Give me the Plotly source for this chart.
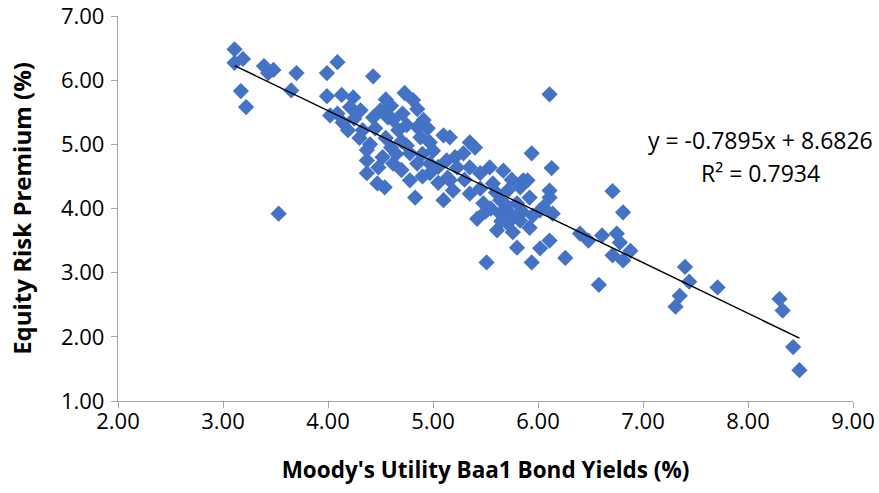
import plotly.graph_objects as go
import numpy as np

bond_yield = [
    3.11, 3.19, 3.11, 3.39, 3.43, 3.48, 3.70, 3.65, 3.17, 3.22, 3.53, 3.99, 4.09, 3.99, 4.02,
    4.43, 4.13, 4.24, 4.21, 4.09, 4.14, 4.19, 4.33, 4.50, 4.57, 4.73, 4.81, 4.71, 4.91, 4.85,
    4.67, 5.10, 4.97, 4.75, 4.37, 4.52, 4.48, 4.37, 4.54, 4.78, 4.85, 4.97, 4.78, 4.97, 5.13,
    5.14, 5.19, 4.83, 5.10, 5.21, 4.88, 4.62, 4.31, 4.43, 4.37, 4.47, 5.35, 5.40, 5.29, 5.94,
    6.13, 5.35, 5.54, 5.67, 5.86, 6.11, 6.11, 5.35, 5.45, 5.57, 5.71, 5.83, 5.48, 5.64, 5.80,
    5.92, 6.05, 6.14, 5.42, 5.64, 5.71, 5.83, 5.92, 5.61, 5.76, 5.95, 5.80, 5.51, 6.02, 6.11,
    5.94, 6.26, 5.16, 5.23, 5.16, 6.11, 6.71, 6.81, 5.90, 6.02, 6.40, 6.48, 6.61, 6.75, 6.78,
    6.88, 6.71, 6.81, 6.58, 7.40, 7.44, 7.35, 7.31, 7.71, 8.30, 8.33, 8.43, 8.49,
    4.30, 4.40, 4.55, 4.60, 4.65, 4.70, 4.62, 4.90, 5.00, 5.05, 4.45, 4.25, 4.95, 5.05, 4.90,
    4.70, 4.60, 4.75, 4.55, 4.85, 5.55, 5.70, 5.85, 5.65, 5.75, 5.50, 5.60, 5.75, 5.45, 5.30,
]
risk_premium = [
    6.48, 6.33, 6.27, 6.22, 6.11, 6.16, 6.11, 5.84, 5.83, 5.58, 3.92, 6.11, 6.28, 5.75, 5.45,
    6.06, 5.77, 5.73, 5.58, 5.48, 5.34, 5.22, 5.22, 5.53, 5.42, 5.80, 5.69, 5.48, 5.38, 5.27,
    5.22, 5.14, 5.03, 4.98, 4.91, 4.80, 4.64, 4.55, 4.33, 4.86, 4.70, 4.70, 4.44, 4.55, 4.75,
    4.48, 4.28, 4.17, 4.13, 4.80, 5.11, 5.38, 5.53, 5.42, 4.75, 4.39, 5.03, 4.95, 4.86, 4.86,
    4.63, 4.64, 4.64, 4.59, 4.44, 4.28, 4.17, 4.23, 4.31, 4.39, 4.28, 4.33, 4.08, 4.13, 4.08,
    4.17, 4.02, 3.92, 3.84, 3.92, 3.77, 3.81, 3.70, 3.66, 3.63, 3.89, 3.39, 3.16, 3.38, 3.50,
    3.16, 3.23, 4.44, 4.64, 5.11, 5.78, 4.27, 3.94, 4.44, 3.97, 3.61, 3.50, 3.58, 3.61, 3.47,
    3.34, 3.27, 3.19, 2.81, 3.09, 2.86, 2.64, 2.47, 2.77, 2.59, 2.41, 1.84, 1.48,
    5.10, 5.00, 5.10, 4.95, 4.85, 5.05, 4.70, 4.85, 4.90, 4.65, 5.25, 5.40, 5.25, 4.40, 4.50,
    4.60, 5.60, 5.30, 5.70, 5.55, 4.00, 4.05, 3.95, 3.80, 3.90, 3.95, 4.25, 4.45, 4.55, 4.45,
]

trend_slope = -0.7895
trend_intercept = 8.6826
r_squared = 0.7934

x_tick_values = [2, 3, 4, 5, 6, 7, 8, 9]
y_tick_values = [1, 2, 3, 4, 5, 6, 7]

FONT = "Open Sans"
AXIS_GRAY = "#A6A6A6"

trend_x = np.array([min(bond_yield), max(bond_yield)])
trend_y = trend_slope * trend_x + trend_intercept

fig = go.Figure()
fig.add_trace(go.Scatter(
    x=bond_yield, y=risk_premium, mode="markers",
    marker=dict(symbol="diamond", size=12.5, color="#4472C4", line=dict(width=0)),
    showlegend=False, hoverinfo="x+y",
))
fig.add_trace(go.Scatter(
    x=trend_x, y=trend_y, mode="lines",
    line=dict(color="black", width=1.5),
    showlegend=False, hoverinfo="skip",
))

fig.add_annotation(
    x=8.12, y=5.06, xref="x", yref="y",
    text=f"y = {trend_slope}x + {trend_intercept}",
    showarrow=False, xanchor="center", yanchor="middle",
    font=dict(family=FONT, size=23, color="black"),
)
fig.add_annotation(
    x=8.12, y=4.56, xref="x", yref="y",
    text=f"R² = {r_squared}",
    showarrow=False, xanchor="center", yanchor="middle",
    font=dict(family=FONT, size=23, color="black"),
)

fig.update_layout(
    width=879, height=493,
    margin=dict(l=118, r=26, t=16, b=92),
    paper_bgcolor="white", plot_bgcolor="white",
    font=dict(family=FONT, size=22, color="black"),
    xaxis=dict(
        range=[2, 9], tickvals=x_tick_values, tickformat=".2f",
        showgrid=False, zeroline=False, automargin=False,
        showline=True, linecolor=AXIS_GRAY, linewidth=1.3,
        ticks="outside", ticklen=6, tickcolor=AXIS_GRAY, tickwidth=1.3,
        ticklabelstandoff=-6, ticklabeloverflow="allow",
        title=dict(text="<b>Moody's Utility Baa1 Bond Yields (%)</b>",
                   font=dict(family=FONT, size=22.5), standoff=28),
    ),
    yaxis=dict(
        range=[1, 7], tickvals=y_tick_values, tickformat=".2f",
        showgrid=False, zeroline=False, automargin=False,
        showline=True, linecolor=AXIS_GRAY, linewidth=1.3,
        ticks="outside", ticklen=6, tickcolor=AXIS_GRAY, tickwidth=1.3,
        ticklabelstandoff=2, ticklabeloverflow="allow",
        title=dict(text="<b>Equity Risk Premium (%)</b>",
                   font=dict(family=FONT, size=24), standoff=22),
    ),
)

fig.write_html(
    "out.html",
    config={"displayModeBar": False},
    post_script="document.body.style.margin='0';document.body.style.overflow='hidden';",
)
